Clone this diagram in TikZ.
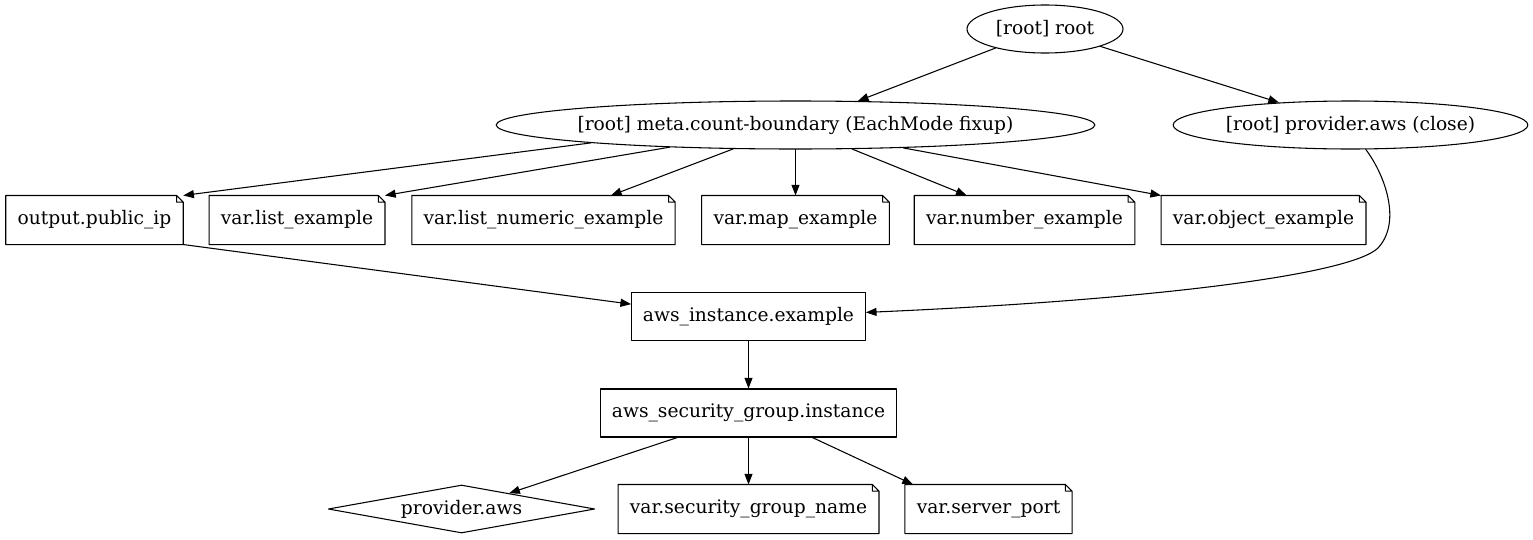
\documentclass[tikz,border=0pt]{standalone}
\usepackage{fontspec}
\setmainfont{DejaVu Serif}
\usepackage{tikz}
\usetikzlibrary{arrows.meta,shapes.geometric}

\begin{document}
\begin{tikzpicture}[line cap=round,line join=round,x=0.75pt,y=-0.75pt,
  >={Triangle[length=8pt,width=6pt]},
  every node/.style={font=\fontsize{14}{16}\selectfont},
  every path/.style={line width=0.8pt},
  ell/.style={ellipse,draw,inner xsep=0pt,inner ysep=0pt,minimum height=36pt},
  box/.style={rectangle,draw,inner xsep=8.5pt,inner ysep=0pt,minimum height=36pt},
  dia/.style={diamond,draw,aspect=5.5,inner sep=0pt,minimum width=200pt,minimum height=36pt},
  note/.style={rectangle,inner xsep=8.5pt,inner ysep=0pt,minimum height=36pt,
    append after command={\pgfextra{\let\nn=\tikzlastnode
      \draw (\nn.north west) -- ([xshift=-5pt]\nn.north east) -- ([yshift=-5pt]\nn.north east)
        -- (\nn.south east) -- (\nn.south west) -- cycle
        ([xshift=-5pt]\nn.north east) |- ([yshift=-5pt]\nn.north east);}}}]
\useasboundingbox (0,0) rectangle (1533,539);
\node[ell,minimum width=117pt] (root) at (1045,29) {[root] root};
\node[ell,inner xsep=-5pt,minimum width=449pt] (meta) at (795.5,125) {[root] meta.count-boundary (EachMode fixup)};
\node[ell,minimum width=266pt] (close) at (1350.5,125) {[root] provider.aws (close)};
\node[note] (output) at (94.5,220) {output.public\_ip};
\node[note] (list) at (297,220) {var.list\_example};
\node[note] (numeric) at (543.5,220) {var.list\_numeric\_example};
\node[note] (map) at (795.5,220) {var.map\_example};
\node[note] (number) at (1024.5,220) {var.number\_example};
\node[note] (object) at (1263.5,220) {var.object\_example};
\node[box] (instance) at (748.5,316.5) {aws\_instance.example};
\node[box] (sg) at (748.5,413) {aws\_security\_group.instance};
\node[dia] (prov) at (461.5,509) {provider.aws};
\node[note] (sgname) at (748.5,509) {var.security\_group\_name};
\node[note] (port) at (988.5,509) {var.server\_port};
\draw[->] (root) -- (meta);
\draw[->] (root) -- (close);
\draw[->] (meta.185.8) -- (output.north east);
\draw[->] (meta.190) -- (list.north east);
\draw[->] (meta.201.6) -- (numeric.20);
\draw[->] (meta) -- (map);
\draw[->] (meta.337.3) -- (number.157);
\draw[->] (meta.348.1) -- (object.north west);
\draw[->] (output.south east) -- (instance.174);
\draw[->] (close.302) .. controls (1385,175) and (1402,222) .. (1378,248)
  .. controls (1350,275) and (1150,300) .. (instance.2);
\draw[->] (instance) -- (sg);
\draw[->] (sg.199) -- (prov);
\draw[->] (sg) -- (sgname);
\draw[->] (sg.339) -- (port.162);
\end{tikzpicture}
\end{document}
